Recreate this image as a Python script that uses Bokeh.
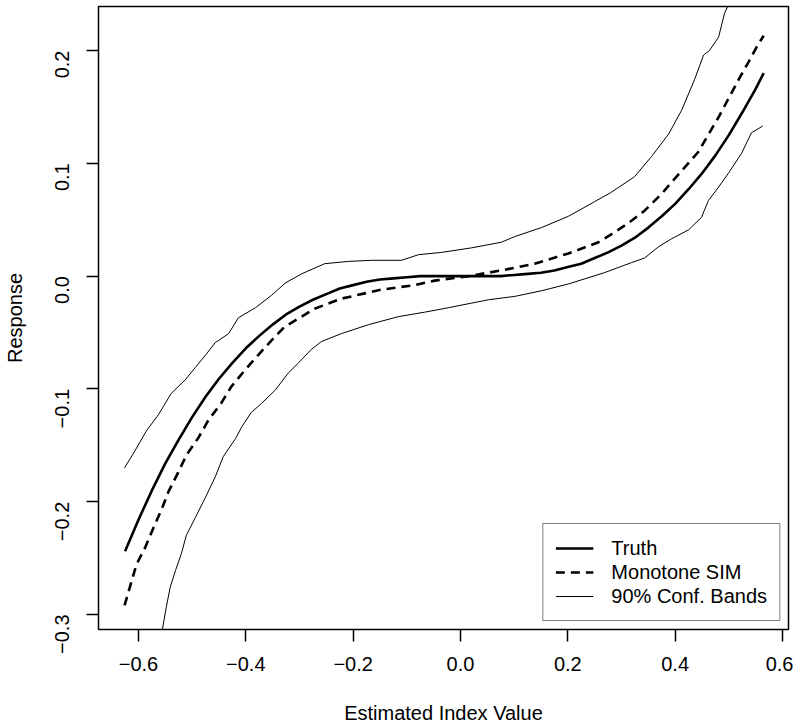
import math
from bokeh.plotting import figure
from bokeh.models import Range1d, FixedTicker, Legend, LegendItem
from bokeh.embed import file_html
from bokeh.resources import INLINE

# ---- data ----
truth_x = [-0.625, -0.600, -0.575, -0.550, -0.525, -0.500, -0.475, -0.450, -0.425, -0.400,
           -0.375, -0.350, -0.325, -0.300, -0.275, -0.250, -0.225, -0.200, -0.175, -0.150,
           -0.125, -0.100, -0.075, -0.050, -0.025, 0.000, 0.025, 0.050, 0.075, 0.100,
           0.125, 0.150, 0.175, 0.200, 0.225, 0.250, 0.275, 0.300, 0.325, 0.350,
           0.375, 0.400, 0.425, 0.450, 0.475, 0.500, 0.525, 0.550, 0.565]
truth_y = [-0.244, -0.216, -0.190, -0.166, -0.145, -0.125, -0.107, -0.091, -0.077, -0.064,
           -0.053, -0.043, -0.034, -0.027, -0.021, -0.016, -0.011, -0.008, -0.005, -0.003,
           -0.002, -0.001, 0.000, 0.000, 0.000, 0.000, 0.000, 0.000, 0.000, 0.001,
           0.002, 0.003, 0.005, 0.008, 0.011, 0.016, 0.021, 0.027, 0.034, 0.043,
           0.053, 0.064, 0.077, 0.091, 0.107, 0.125, 0.145, 0.166, 0.180]

sim_x = [-0.626, -0.615, -0.604, -0.587, -0.572, -0.557, -0.544, -0.526, -0.511, -0.488,
         -0.470, -0.445, -0.427, -0.401, -0.377, -0.352, -0.328, -0.296, -0.272, -0.222,
         -0.147, -0.086, -0.048, 0.015, 0.076, 0.138, 0.201, 0.257, 0.281, 0.313,
         0.343, 0.375, 0.393, 0.443, 0.481, 0.518, 0.537, 0.554, 0.565]
sim_y = [-0.292, -0.274, -0.256, -0.240, -0.223, -0.207, -0.191, -0.174, -0.159, -0.143,
         -0.128, -0.112, -0.098, -0.083, -0.070, -0.057, -0.045, -0.036, -0.029, -0.020,
         -0.012, -0.008, -0.004, 0.000, 0.005, 0.011, 0.020, 0.030, 0.037, 0.047,
         0.058, 0.073, 0.083, 0.110, 0.141, 0.174, 0.190, 0.205, 0.213]

upper_x = [-0.626, -0.608, -0.585, -0.563, -0.539, -0.513, -0.494, -0.475, -0.457, -0.432,
           -0.414, -0.382, -0.352, -0.326, -0.296, -0.253, -0.209, -0.166, -0.110, -0.078,
           -0.035, 0.020, 0.076, 0.101, 0.151, 0.201, 0.250, 0.280, 0.324, 0.356,
           0.388, 0.412, 0.436, 0.453, 0.464, 0.481, 0.492, 0.499, 0.520]
upper_y = [-0.170, -0.156, -0.137, -0.123, -0.104, -0.092, -0.081, -0.070, -0.059, -0.051,
           -0.037, -0.028, -0.017, -0.006, 0.002, 0.011, 0.013, 0.014, 0.014, 0.019,
           0.021, 0.025, 0.030, 0.035, 0.043, 0.053, 0.066, 0.074, 0.088, 0.106,
           0.126, 0.147, 0.174, 0.196, 0.200, 0.212, 0.233, 0.240, 0.270]

lower_x = [-0.575, -0.555, -0.548, -0.541, -0.531, -0.520, -0.511, -0.494, -0.475, -0.457,
           -0.442, -0.419, -0.408, -0.390, -0.371, -0.345, -0.321, -0.302, -0.278, -0.259,
           -0.222, -0.171, -0.116, -0.067, -0.022, 0.020, 0.052, 0.101, 0.151, 0.201,
           0.268, 0.319, 0.343, 0.369, 0.393, 0.425, 0.449, 0.462, 0.481, 0.499,
           0.524, 0.542, 0.563]
lower_y = [-0.350, -0.312, -0.293, -0.276, -0.261, -0.246, -0.230, -0.214, -0.196, -0.178,
           -0.160, -0.144, -0.134, -0.121, -0.113, -0.101, -0.086, -0.077, -0.065, -0.058,
           -0.051, -0.043, -0.036, -0.032, -0.028, -0.024, -0.021, -0.018, -0.013, -0.007,
           0.003, 0.012, 0.016, 0.026, 0.033, 0.041, 0.052, 0.067, 0.079, 0.091,
           0.109, 0.127, 0.133]

x_ticks = [-0.6, -0.4, -0.2, 0.0, 0.2, 0.4, 0.6]
x_tick_labels = ["\u22120.6", "\u22120.4", "\u22120.2", "0.0", "0.2", "0.4", "0.6"]
y_ticks = [-0.3, -0.2, -0.1, 0.0, 0.1, 0.2]
y_tick_labels = ["\u22120.3", "\u22120.2", "\u22120.1", "0.0", "0.1", "0.2"]

FONT = "Liberation Sans"

p = figure(frame_width=690, frame_height=623, output_backend="svg", toolbar_location=None,
           x_range=Range1d(-0.6745, 0.6112), y_range=Range1d(-0.3133, 0.2390),
           min_border_left=97, min_border_right=5, min_border_top=6, min_border_bottom=94,
           title=None)
p.background_fill_color = "white"
p.border_fill_color = "white"
p.outline_line_color = "black"
p.outline_line_width = 1.5
p.xgrid.visible = False
p.ygrid.visible = False

for ax in (p.xaxis[0], p.yaxis[0]):
    ax.axis_line_color = None
    ax.major_tick_out = 12
    ax.major_tick_in = 0
    ax.minor_tick_out = 0
    ax.minor_tick_in = 0
    ax.major_tick_line_color = "black"
    ax.major_tick_line_width = 1.5
    ax.major_label_text_font = FONT
    ax.major_label_text_font_size = "20px"
    ax.major_label_text_color = "black"
    ax.axis_label_text_font = FONT
    ax.axis_label_text_font_size = "20px"
    ax.axis_label_text_font_style = "normal"
    ax.axis_label_text_color = "black"

p.xaxis.ticker = FixedTicker(ticks=x_ticks)
p.xaxis.major_label_overrides = {t: l for t, l in zip(x_ticks, x_tick_labels)}
p.yaxis.ticker = FixedTicker(ticks=y_ticks)
p.yaxis.major_label_overrides = {t: l for t, l in zip(y_ticks, y_tick_labels)}
p.yaxis.major_label_orientation = math.pi / 2
p.xaxis.axis_label = "Estimated Index Value"
p.yaxis.axis_label = "Response"
p.xaxis.major_label_standoff = 15
p.xaxis.axis_label_standoff = 28
p.yaxis.major_label_standoff = 24
p.yaxis.axis_label_standoff = 20

r_truth = p.line(truth_x, truth_y, line_color="black", line_width=2.6)
r_sim = p.line(sim_x, sim_y, line_color="black", line_width=2.6, line_dash="9 6")
r_up = p.line(upper_x, upper_y, line_color="black", line_width=1)
r_lo = p.line(lower_x, lower_y, line_color="black", line_width=1)

legend = Legend(items=[LegendItem(label="Truth", renderers=[r_truth]),
                       LegendItem(label="Monotone SIM", renderers=[r_sim]),
                       LegendItem(label="90% Conf. Bands", renderers=[r_up])],
                location="bottom_right")
legend.margin = 8
legend.padding = 12
legend.spacing = 0
legend.glyph_width = 38
legend.glyph_height = 24
legend.label_height = 24
legend.label_standoff = 18
legend.label_text_font = FONT
legend.label_text_font_size = "20px"
legend.label_text_color = "black"
legend.border_line_color = "black"
legend.border_line_width = 1.5
legend.background_fill_alpha = 1.0
legend.background_fill_color = "white"
p.add_layout(legend, "center")

open("out.html", "w").write(file_html(p, INLINE))
